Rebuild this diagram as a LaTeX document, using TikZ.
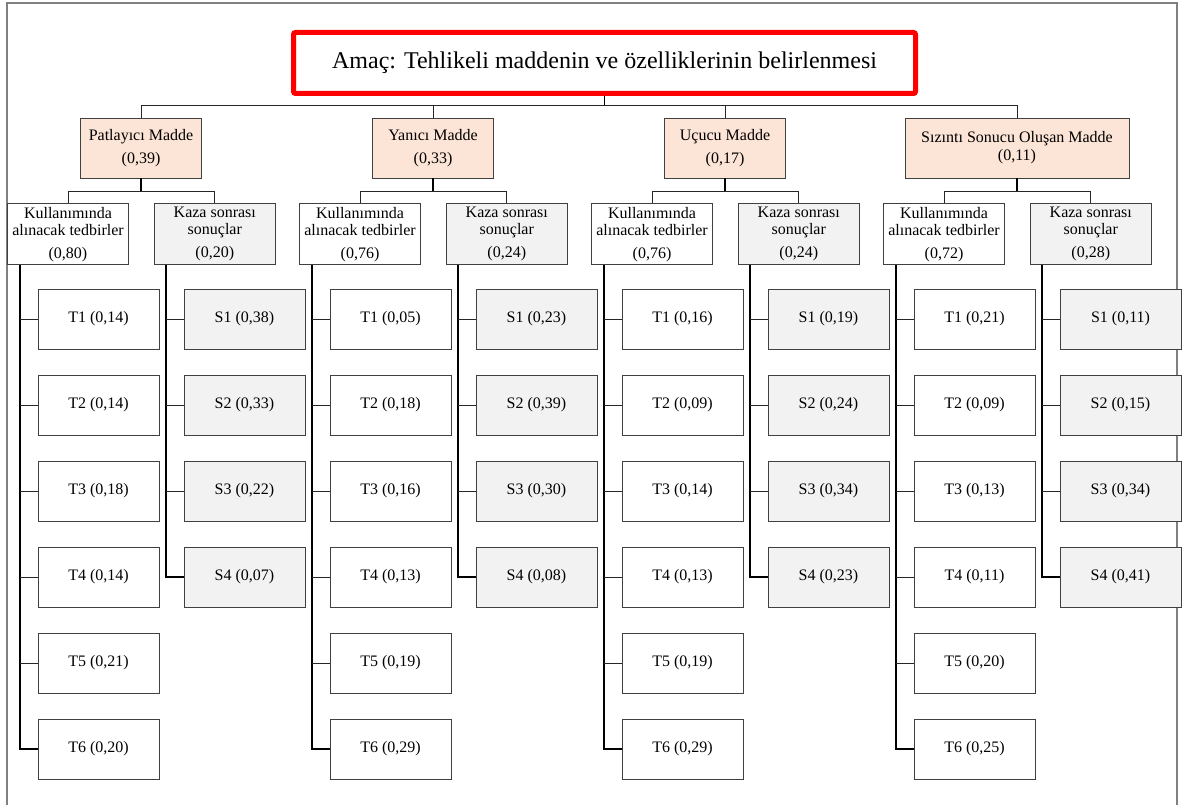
\documentclass[tikz,border=0pt]{standalone}
\usepackage{fontspec}
\setmainfont{Liberation Serif}
\usepackage{tikz}
\usetikzlibrary{positioning}
\definecolor{catPeach}{HTML}{FCE4D6}
\definecolor{kazaGray}{HTML}{F2F2F2}

\begin{document}
\begin{tikzpicture}[
    x=1pt, y=1pt,
    node distance=25pt and 25pt,
    goal/.style={draw=red, line width=5pt, rounded corners=2pt, minimum width=622pt, minimum height=61pt, font=\fontsize{24}{28}\selectfont},
    cat/.style={draw=black!75, line width=0.8pt, fill=catPeach, minimum width=121pt, minimum height=60pt, align=center, font=\fontsize{16}{18}\selectfont},
    sub/.style={draw=black!75, line width=0.8pt, minimum width=121pt, minimum height=61pt, inner xsep=1pt, inner ysep=2pt, align=center, font=\fontsize{16}{17}\selectfont},
    leaf/.style={draw=black!75, line width=0.8pt, minimum width=121pt, minimum height=60pt, font=\fontsize{16}{18}\selectfont},
    link/.style={draw=black!85, line width=0.9pt},
    spine/.style={draw=black, line width=1.4pt},
  ]
  \useasboundingbox (0,0) rectangle (1184,-805);
  \draw[gray, line width=1.2pt] (7,-805) |- (1177,-3) -- (1177,-805);

  \node[goal] (goal) at (604.5,-63) {Amaç: Tehlikeli maddenin ve özelliklerinin belirlenmesi};
  \coordinate (bar) at (0,-105);

  % categories, sub criteria and leaves
  \foreach \g/\c/\catname/\cw/\cwt/\sep/\uw/\kw/\tlist/\slist in {
      1/141/Patlayıcı Madde/121/39/5pt/80/20/{14,14,18,14,21,20}/{38,33,22,07},
      2/433/Yanıcı Madde/121/33/5pt/76/24/{05,18,16,13,19,29}/{23,39,30,08},
      3/725/Uçucu Madde/121/17/5pt/76/24/{16,09,14,13,19,29}/{19,24,34,23},
      4/1017/Sızıntı Sonucu Oluşan Madde/224/11/0pt/72/28/{21,09,13,11,20,25}/{11,15,34,41}}{
    \node[cat, minimum width=\cw] (cat\g) at (\c,-148) {\catname\\[\sep](0,\cwt)};
    \node[sub, below=25pt of cat\g, xshift=-73pt] (use\g) {Kullanımında\\alınacak tedbirler\\[6pt](0,\uw)};
    \node[sub, fill=kazaGray, right=of use\g] (kaza\g) {Kaza sonrası\\sonuçlar\\[6pt](0,\kw)};
    \foreach \v [count=\i] in \tlist
      \node[leaf] (t\g-\i) at (\c-42.5,-233-86*\i) {T\i\ (0,\v)};
    \foreach \v [count=\i] in \slist
      \node[leaf, fill=kazaGray] (s\g-\i) at (\c+103.5,-233-86*\i) {S\i\ (0,\v)};

    \draw[spine] (cat\g.south) -- ++(0,-13pt);
    \draw[link] (use\g.north) -- ++(0,12pt) -| (kaza\g.north);
    \draw[spine] ([xshift=13pt]use\g.south west) |- (t\g-6.west);
    \draw[spine] ([xshift=12pt]kaza\g.south west) |- (s\g-4.west);
    \foreach \i in {1,...,5}
      \draw[link] (t\g-\i.west) -- ++(-18pt,0);
    \foreach \i in {1,2,3}
      \draw[link] (s\g-\i.west) -- ++(-18pt,0);
  }

  \draw[spine] (goal.south) -- (goal.south |- bar);
  \draw[link] (cat1.north) -- (cat1.north |- bar) -- (cat4.north |- bar) -- (cat4.north);
  \foreach \g in {2,3}
    \draw[link] (cat\g.north) -- (cat\g.north |- bar);
\end{tikzpicture}
\end{document}
